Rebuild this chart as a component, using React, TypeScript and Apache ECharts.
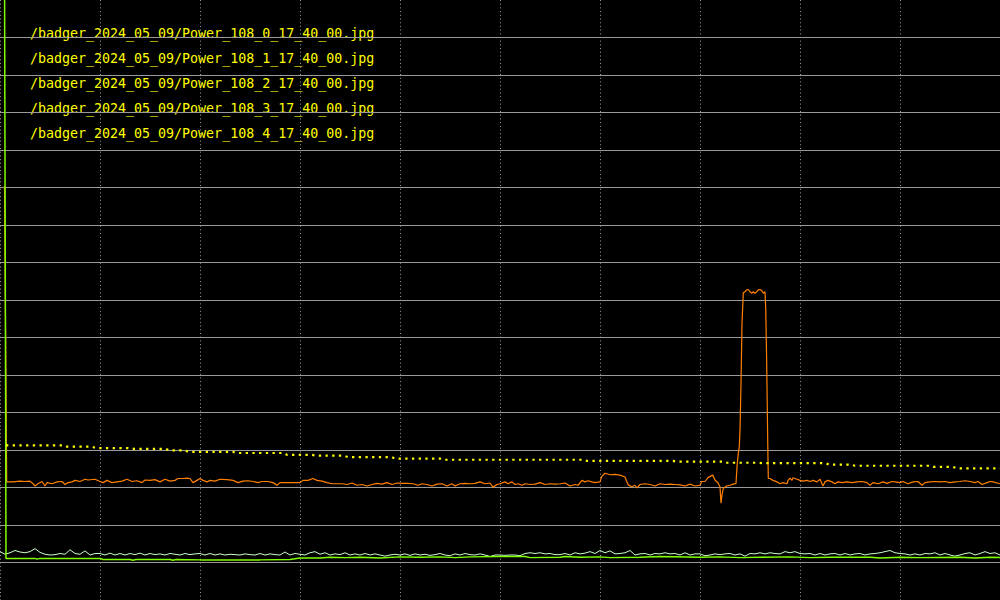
import React, { useEffect, useRef } from "react";
import * as echarts from "echarts";

// ---------- data ----------
const legendLabels = [
  "/badger_2024_05_09/Power_108_0_17_40_00.jpg",
  "/badger_2024_05_09/Power_108_1_17_40_00.jpg",
  "/badger_2024_05_09/Power_108_2_17_40_00.jpg",
  "/badger_2024_05_09/Power_108_3_17_40_00.jpg",
  "/badger_2024_05_09/Power_108_4_17_40_00.jpg",
];

const xMin = 0;
const xMax = 1000;
const xInterval = 100;
const yMin = 0;
const yMax = 160;
const yInterval = 10;

// orange trace [x, value]
const orangeTrace: [number, number][] = [
  [4.5, 110.4], [6.7, 31.5], [13, 31.5], [20, 31.7], [25, 31.6], [30, 31.7], [33, 31.0], [35, 30.4],
  [38, 31.0], [42, 31.6], [45, 30.4], [47, 31.3], [52, 31.0], [57, 31.5], [62, 31.6], [65, 30.8],
  [68, 31.3], [72, 31.5], [75, 31.9], [80, 31.6], [85, 32.2], [88, 32.0], [95, 32.2], [100, 31.6],
  [103, 31.3], [107, 31.9], [112, 31.3], [117, 31.5], [122, 31.7], [127, 32.2], [132, 31.6], [137, 31.8],
  [142, 31.3], [145, 32.0], [150, 31.9], [155, 32.1], [160, 31.5], [165, 32.2], [170, 31.7], [175, 31.9],
  [178, 32.4], [183, 32.4], [187, 32.5], [190, 32.4], [193, 31.3], [197, 31.9], [200, 32.4], [203, 31.9],
  [207, 31.5], [210, 31.9], [215, 31.7], [220, 32.2], [227, 32.1], [233, 31.9], [238, 31.3], [243, 31.7],
  [248, 31.8], [253, 31.6], [258, 31.3], [262, 31.6], [268, 31.6], [273, 31.3], [277, 30.6], [280, 31.3],
  [285, 31.3], [290, 31.3], [295, 31.3], [300, 31.3], [303, 31.9], [308, 31.9], [313, 32.4], [317, 31.9],
  [322, 31.7], [327, 31.3], [332, 31.0], [337, 31.0], [342, 31.0], [347, 30.8], [352, 31.2], [357, 30.6],
  [362, 30.8], [367, 30.4], [372, 30.8], [377, 31.1], [382, 30.9], [387, 31.3], [392, 30.8], [397, 31.2],
  [402, 31.1], [408, 31.1], [413, 31.0], [418, 30.6], [422, 31.0], [427, 30.8], [432, 30.4], [437, 30.9],
  [442, 31.0], [447, 30.4], [452, 31.0], [455, 30.4], [460, 31.0], [465, 31.1], [470, 31.0], [475, 31.1],
  [480, 31.5], [485, 31.0], [490, 31.2], [493, 30.1], [497, 30.8], [500, 31.0],
  [505, 31.5], [508, 31.0], [512, 31.5], [515, 30.8], [518, 31.0], [522, 30.6], [525, 31.0], [530, 30.8],
  [535, 30.9], [540, 31.3], [545, 30.8], [550, 31.0], [555, 30.9], [560, 31.0], [565, 31.2], [570, 30.4],
  [575, 30.8], [578, 30.6], [582, 31.9], [585, 31.5], [588, 31.8], [592, 31.5], [595, 31.3], [600, 31.5],
  [601.7, 32.9], [605, 33.8], [610, 33.4], [615, 33.5], [620, 33.3], [625, 32.8], [626.7, 31.6], [628.3, 30.7],
  [631.7, 30.2], [635, 30.6], [637, 29.9], [640, 30.8], [645, 31.0], [650, 30.8], [655, 30.4], [660, 31.0],
  [665, 30.8], [670, 30.9], [675, 30.8], [680, 30.7], [685, 30.4], [690, 30.9], [695, 30.4], [700, 30.6],
  [701.7, 31.6], [705, 31.6], [708.3, 32.7], [712.7, 33.3], [715, 32.0], [718, 31.2], [720, 30.2], [721, 25.8],
  [722, 28.0], [723.3, 29.8], [726.7, 30.4], [730, 30.6], [733.3, 30.9], [736, 31.1],
  [736.5, 33.3], [737.3, 36.5], [738.3, 39.1], [739.3, 40.9], [740, 45.3], [741, 57.8], [742, 73.8], [743.3, 81.9],
  [745, 82.2], [746.7, 82.7], [748.3, 82.8], [750, 82.2], [751.7, 81.8], [753.3, 82.2], [755, 81.8], [756.7, 82.2],
  [758.3, 82.7], [760, 82.8], [761.7, 82.5], [763.3, 81.8], [765, 82.2], [765.7, 77.8], [766.7, 63.1], [767.7, 42.7],
  [768.3, 32.4],
  [770, 32.4], [773, 31.9], [777, 31.5], [780, 31.0], [783, 31.3], [787, 31.0], [788, 31.9], [790, 32.5],
  [792, 31.9], [793, 32.6], [797, 32.2], [800, 31.9], [803, 31.7], [807, 31.9], [810, 31.6], [813, 31.9],
  [817, 31.5], [820, 32.2], [823, 30.4], [825, 31.5], [828, 31.9], [832, 31.5], [835, 31.0], [838, 31.5],
  [842, 31.3], [847, 31.5], [852, 31.3], [857, 31.5], [862, 31.6], [867, 31.3], [870, 30.6], [873, 31.3],
  [878, 31.0], [883, 31.5], [887, 31.1], [892, 31.6], [895, 31.5], [900, 31.3], [903, 31.6], [908, 31.0],
  [913, 31.5], [918, 31.6], [922, 30.6], [925, 31.3], [930, 31.5], [935, 31.6], [940, 31.5], [945, 31.6],
  [950, 31.3], [955, 31.5], [960, 31.6], [965, 31.8], [970, 31.6], [975, 31.3], [978, 31.6], [982, 30.8],
  [987, 31.3], [990, 31.6], [993, 31.5], [1000, 31.0],
];

// yellow dotted trace [x, value]
const yellowTrace: [number, number][] = [
  [6, 41.25], [64, 41.25], [67, 40.9], [92, 40.9], [96, 40.5], [128, 40.5], [134, 40.3], [166, 40.3],
  [169, 39.9], [185, 39.9], [188, 39.5], [233, 39.5], [236, 39.2], [284, 39.2], [287, 38.7], [312, 38.7],
  [316, 38.5], [344, 38.5], [348, 38.1], [392, 38.1], [395, 37.7], [440, 37.7], [443, 37.4], [584, 37.4],
  [587, 37.1], [673, 37.1], [676, 36.9], [724, 36.9], [727, 36.6], [759, 36.6], [762, 36.5], [826, 36.5],
  [829, 36.1], [851, 36.1], [855, 35.8], [931, 35.8], [934, 35.5], [953, 35.5], [957, 35.1], [1000, 35.1],
];

// pale trace, one value every 5 x-units starting at 0
const paleStep = 5;
const paleValues = [
  12.9, 12.2, 12.6, 13.2, 12.8, 12.6, 12.9, 13.7, 12.7, 12.2, 12.0, 12.1, 12.4, 12.2, 13.4, 12.4,
  12.2, 13.1, 12.0, 12.4, 12.4, 12.0, 12.5, 12.0, 12.4, 12.0, 12.4, 12.1, 12.5, 12.0, 12.4, 12.1,
  12.3, 12.0, 12.4, 12.2, 12.0, 12.4, 12.1, 12.3, 12.4, 12.0, 12.4, 12.0, 12.3, 12.0, 12.2, 12.1,
  12.0, 12.3, 12.1, 12.0, 12.4, 12.0, 12.3, 12.1, 12.0, 12.8, 12.0, 12.4, 12.2, 12.0, 12.6, 12.9,
  12.2, 12.6, 12.0, 12.3, 12.1, 12.6, 12.0, 12.3, 12.0, 12.4, 12.0, 12.3, 12.0, 11.7, 12.0, 12.2,
  12.0, 12.3, 11.9, 12.3, 12.0, 12.2, 11.9, 12.1, 12.4, 12.0, 11.8, 12.3, 12.0, 12.4, 12.1, 12.0,
  12.3, 12.0, 11.6, 12.0, 12.0,
  11.9, 12.0, 12.0, 11.8, 12.4, 12.6, 12.4, 12.6, 12.3, 12.4, 12.1, 12.1, 12.4, 12.0, 12.6, 12.3,
  12.5, 12.9, 12.4, 13.2, 12.6, 13.1, 12.3, 12.4, 12.6, 13.2, 12.0, 12.3, 12.4, 12.0, 12.4, 12.3,
  12.6, 12.3, 12.4, 12.0, 12.6, 12.0, 12.3, 12.3, 11.8, 12.0, 12.3, 12.1, 12.3, 12.4, 12.0, 12.3,
  11.7, 12.4, 12.3, 12.6, 12.3, 12.6, 12.4, 12.3, 12.9, 12.6, 12.9, 12.4, 12.3, 12.4, 12.0, 12.4,
  12.0, 12.3, 12.4, 12.0, 12.4, 12.0, 12.3, 12.4, 12.0, 12.3, 12.4, 12.6, 12.9, 13.2, 12.6, 12.4,
  12.3, 12.0, 12.3, 12.0, 12.4, 12.3, 12.6, 12.0, 12.4, 12.0, 11.7, 12.0, 12.4, 12.6, 12.0, 12.4,
  12.9, 12.4, 12.6, 12.0,
];

// green trace [x, value]
const greenTrace: [number, number][] = [
  [4.5, 170], [6, 11.1], [35, 11.1], [37, 10.9], [40, 11.1], [100, 11.1], [103, 10.8], [130, 10.8],
  [133, 10.6], [136, 10.8], [170, 10.8], [173, 10.6], [176, 10.8], [200, 10.7], [230, 10.7], [260, 10.7],
  [290, 10.8], [300, 11.2], [320, 11.2], [330, 11.4], [345, 11.3], [360, 11.4], [380, 11.2], [400, 11.5],
  [420, 11.4], [440, 11.5], [455, 11.3], [470, 11.5], [500, 11.6], [525, 11.6], [530, 11.3], [560, 11.4],
  [565, 11.6], [580, 11.4], [600, 11.5], [610, 11.3], [640, 11.4], [660, 11.6], [700, 11.4], [720, 11.5],
  [740, 11.3], [760, 11.4], [790, 11.5], [810, 11.3], [830, 11.4], [870, 11.4], [880, 11.2], [900, 11.4],
  [920, 11.3], [960, 11.4], [975, 11.2], [990, 11.4], [1000, 11.3],
];

export default function App() {
  const ref = useRef<HTMLDivElement>(null);

  useEffect(() => {
    if (!ref.current) return;
    const chart = echarts.init(ref.current, undefined, { renderer: "svg" });
    const paleTrace = paleValues.map((v, i) => [i * paleStep, v]);

    chart.setOption({
      animation: false,
      backgroundColor: "#000000",
      grid: { left: 0, right: 0, top: 0, bottom: 0, containLabel: false },
      xAxis: {
        type: "value",
        min: xMin,
        max: xMax,
        interval: xInterval,
        axisLine: { show: false },
        axisTick: { show: false },
        axisLabel: { show: false },
        splitLine: {
          show: true,
          showMinLine: true,
          showMaxLine: false,
          lineStyle: { color: "#a0a0a0", width: 1, type: [1, 2.7] },
        },
      },
      yAxis: {
        type: "value",
        min: yMin,
        max: yMax,
        interval: yInterval,
        axisLine: { show: false },
        axisTick: { show: false },
        axisLabel: { show: false },
        splitLine: {
          show: true,
          showMinLine: false,
          showMaxLine: false,
          lineStyle: { color: "#9a9a9a", width: 1, type: "solid" },
        },
      },
      graphic: legendLabels.map((t, i) => ({
        type: "text",
        x: 30,
        y: 33 + 25 * i,
        silent: true,
        style: {
          text: t,
          fill: "#ffff00",
          font: '13.3px "DejaVu Sans Mono", monospace',
          align: "left",
          verticalAlign: "middle",
        },
      })),
      series: [
        {
          name: "pale",
          type: "line",
          data: paleTrace,
          showSymbol: false,
          symbol: "none",
          clip: true,
          lineStyle: { color: "#ccffcc", width: 1 },
        },
        {
          name: "orange",
          type: "line",
          data: orangeTrace,
          showSymbol: false,
          symbol: "none",
          clip: true,
          lineStyle: { color: "#ff8000", width: 1.2 },
        },
        {
          name: "green",
          type: "line",
          data: greenTrace,
          showSymbol: false,
          symbol: "none",
          clip: true,
          lineStyle: { color: "#80ff00", width: 1.5 },
        },
        {
          name: "yellow",
          type: "line",
          data: yellowTrace,
          showSymbol: false,
          symbol: "none",
          clip: true,
          lineStyle: { color: "#ffff00", width: 2.2, type: [2.3, 4.4] },
        },
      ],
    });

    return () => chart.dispose();
  }, []);

  return (
    <div
      ref={ref}
      style={{ position: "absolute", left: 0, top: 0, width: 1000, height: 600, background: "#000" }}
    />
  );
}
